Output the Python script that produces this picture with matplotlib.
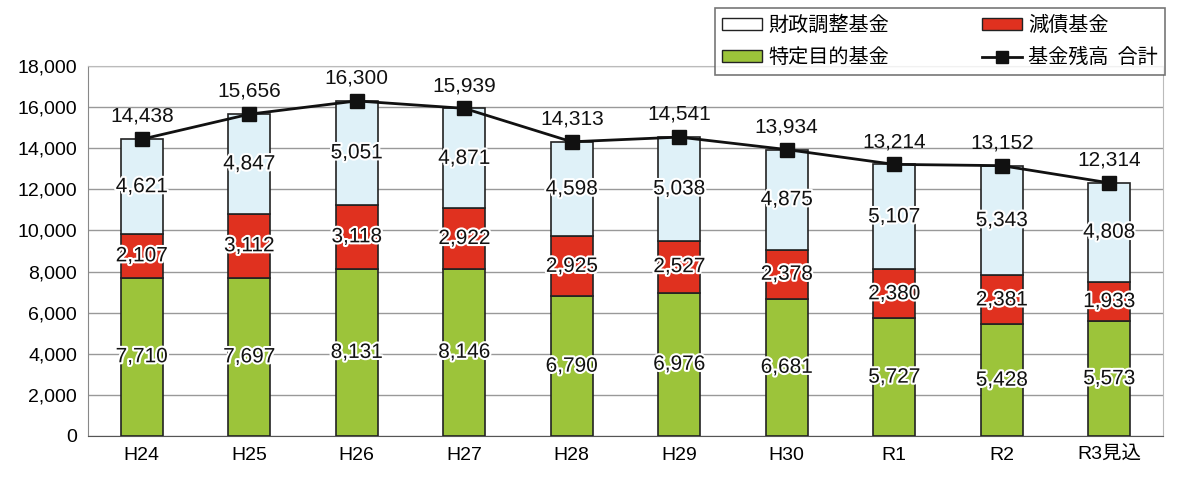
import numpy as np
import matplotlib.pyplot as plt
import matplotlib.patheffects as pe
from matplotlib.lines import Line2D
from matplotlib.patches import Patch

plt.rcParams['font.family'] = ['Liberation Sans', 'Noto Sans CJK JP']

years = ["H24", "H25", "H26", "H27", "H28", "H29", "H30", "R1", "R2", "R3見込"]
tokutei = [7710, 7697, 8131, 8146, 6790, 6976, 6681, 5727, 5428, 5573]
gensai = [2107, 3112, 3118, 2922, 2925, 2527, 2378, 2380, 2381, 1933]
zaisei = [4621, 4847, 5051, 4871, 4598, 5038, 4875, 5107, 5343, 4808]
total = [14438, 15656, 16300, 15939, 14313, 14541, 13934, 13214, 13152, 12314]

c_green = "#9cc43a"
c_red = "#e0311f"
c_blue = "#dff1f8"

fig = plt.figure(figsize=(11.77, 4.82), dpi=100)
ax = fig.add_axes([88 / 1177, 46 / 482, 1075 / 1177, 370 / 482])

x = np.arange(len(years))
w = 0.39
b1 = np.array(tokutei)
b2 = b1 + np.array(gensai)
ax.bar(x, tokutei, w, color=c_green, edgecolor="#222222", linewidth=1.2, zorder=3)
ax.bar(x, gensai, w, bottom=b1, color=c_red, edgecolor="#222222", linewidth=1.2, zorder=3)
ax.bar(x, zaisei, w, bottom=b2, color=c_blue, edgecolor="#222222", linewidth=1.2, zorder=3)
ax.plot(x, total, color="#111111", linewidth=2, marker="s", markersize=10, zorder=5)

halo = [pe.withStroke(linewidth=3, foreground="white")]
for i in x:
    ax.text(i, tokutei[i] / 2, f"{tokutei[i]:,}", ha="center", va="center",
            fontsize=15, color="#111111", path_effects=halo, zorder=6)
    ax.text(i, b1[i] + gensai[i] / 2, f"{gensai[i]:,}", ha="center", va="center",
            fontsize=15, color="#111111", path_effects=halo, zorder=6)
    ax.text(i, b2[i] + zaisei[i] / 2, f"{zaisei[i]:,}", ha="center", va="center",
            fontsize=15, color="#111111", path_effects=halo, zorder=6)
    ax.text(i, total[i] + 650, f"{total[i]:,}", ha="center", va="bottom",
            fontsize=15, color="#111111", zorder=6)

ax.set_xlim(-0.5, len(years) - 0.5)
ax.set_ylim(0, 18000)
ax.set_yticks(np.arange(0, 18001, 2000))
ax.set_yticklabels([f"{v:,}" for v in range(0, 18001, 2000)], fontsize=14)
ax.set_xticks(x)
ax.set_xticklabels(years, fontsize=14)
ax.tick_params(length=0, pad=8)
ax.grid(axis="y", color="#999999", linewidth=1, zorder=0)
for s in ["top", "right"]:
    ax.spines[s].set_color("#bbbbbb")
ax.spines["left"].set_color("#888888")
ax.spines["bottom"].set_color("#555555")

handles = [
    Patch(facecolor="white", edgecolor="#222222", label="財政調整基金"),
    Patch(facecolor=c_green, edgecolor="#222222", label="特定目的基金"),
    Patch(facecolor=c_red, edgecolor="#222222", label="減債基金"),
    Line2D([0], [0], color="#111111", lw=2, marker="s", markersize=9, label="基金残高  合計"),
]
leg = fig.legend(handles=handles, ncol=2, loc="upper left",
                 bbox_to_anchor=(715 / 1177, 1 - 8 / 482),
                 prop={"family": ["Noto Sans CJK JP"], "size": 14.5},
                 frameon=True, fancybox=False, edgecolor="#555555",
                 handlelength=2.0, handleheight=0.5, handletextpad=0.3,
                 columnspacing=4.6, borderpad=0.35, labelspacing=0.55,
                 borderaxespad=0)
leg.get_frame().set_linewidth(1.2)

fig.savefig("out.png", dpi=100)
